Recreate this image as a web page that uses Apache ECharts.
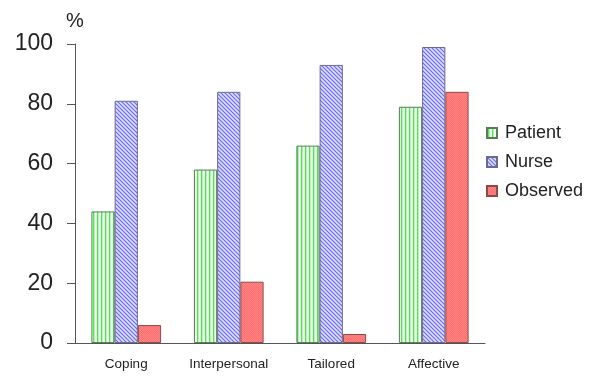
<!DOCTYPE html>
<html><head><meta charset="utf-8">
<script src="https://cdn.jsdelivr.net/npm/echarts@6/dist/echarts.min.js"></script>
<style>html,body{margin:0;padding:0;background:#fff}#c{width:592px;height:376px}</style>
</head><body><div id="c"></div>
<script>
var categories = ['Coping', 'Interpersonal', 'Tailored', 'Affective'];
var patient = [44, 58, 66, 79];
var nurse = [81, 84, 93, 99];
var observed = [6, 20.5, 3, 84];
var yTicks = [0, 20, 40, 60, 80, 100];

function makePattern(w, h, draw) {
  var c = document.createElement('canvas');
  c.width = w; c.height = h;
  var ctx = c.getContext('2d');
  draw(ctx);
  return { image: c, repeat: 'repeat' };
}
var patPatient = makePattern(4, 4, function (ctx) {
  ctx.fillStyle = '#f2fbf2'; ctx.fillRect(0, 0, 4, 4);
  ctx.fillStyle = '#3ff03f'; ctx.fillRect(1, 0, 1, 4);
  ctx.fillStyle = '#b8f0b8'; ctx.fillRect(2, 0, 1, 4);
});
var patNurse = makePattern(4, 4, function (ctx) {
  ctx.fillStyle = '#b8b8ff'; ctx.fillRect(0, 0, 4, 4);
  ctx.fillStyle = '#7070e8';
  for (var i = 0; i < 4; i++) { ctx.fillRect(i, i, 1, 1); }
  ctx.fillStyle = '#e0e0ff';
  for (var j = 0; j < 4; j++) { ctx.fillRect((j + 2) % 4, j, 1, 1); }
});
var patObserved = makePattern(2, 2, function (ctx) {
  ctx.fillStyle = '#ff6f6f'; ctx.fillRect(0, 0, 2, 2);
  ctx.fillStyle = '#ff8585'; ctx.fillRect(0, 0, 1, 1); ctx.fillRect(1, 1, 1, 1);
});

var chart = echarts.init(document.getElementById('c'));
chart.setOption({
  animation: false,
  backgroundColor: '#fff',
  textStyle: { fontFamily: 'Liberation Sans, Arial, sans-serif' },
  grid: { left: 75, right: 107, top: 44, bottom: 33 },
  legend: {
    orient: 'vertical', left: 481, top: 118,
    icon: 'rect', itemWidth: 10, itemHeight: 10, itemGap: 9,
    textStyle: { fontSize: 18, color: '#222', lineHeight: 20, padding: [0, 0, 0, 3] },
    data: ['Patient', 'Nurse', 'Observed']
  },
  xAxis: {
    type: 'category', data: categories,
    axisLine: { lineStyle: { color: '#555', width: 1 } },
    axisTick: { length: 5, lineStyle: { color: '#555' } },
    axisLabel: { fontSize: 13.5, color: '#222', margin: 14 }
  },
  yAxis: {
    type: 'value', min: 0, max: 100, interval: 20,
    name: '%', nameLocation: 'end', nameGap: 13,
    nameTextStyle: { fontSize: 20, color: '#222', align: 'center' },
    axisLine: { show: true, lineStyle: { color: '#555', width: 1 } },
    axisTick: { show: true, length: 8, lineStyle: { color: '#555' } },
    axisLabel: { fontSize: 23, color: '#222', margin: 22,
      formatter: function (v) { return yTicks.indexOf(v) >= 0 ? String(v) : ''; } },
    splitLine: { show: false }
  },
  series: [
    { name: 'Patient', type: 'bar', data: patient, barGap: '0%', barCategoryGap: '32%',
      itemStyle: { color: patPatient, borderColor: '#5a7a5a', borderWidth: 1 } },
    { name: 'Nurse', type: 'bar', data: nurse, barGap: '0%', barCategoryGap: '32%',
      itemStyle: { color: patNurse, borderColor: '#6a6a8a', borderWidth: 1 } },
    { name: 'Observed', type: 'bar', data: observed, barGap: '0%', barCategoryGap: '32%',
      itemStyle: { color: patObserved, borderColor: '#8a4a4a', borderWidth: 1 } }
  ]
});
</script></body></html>
